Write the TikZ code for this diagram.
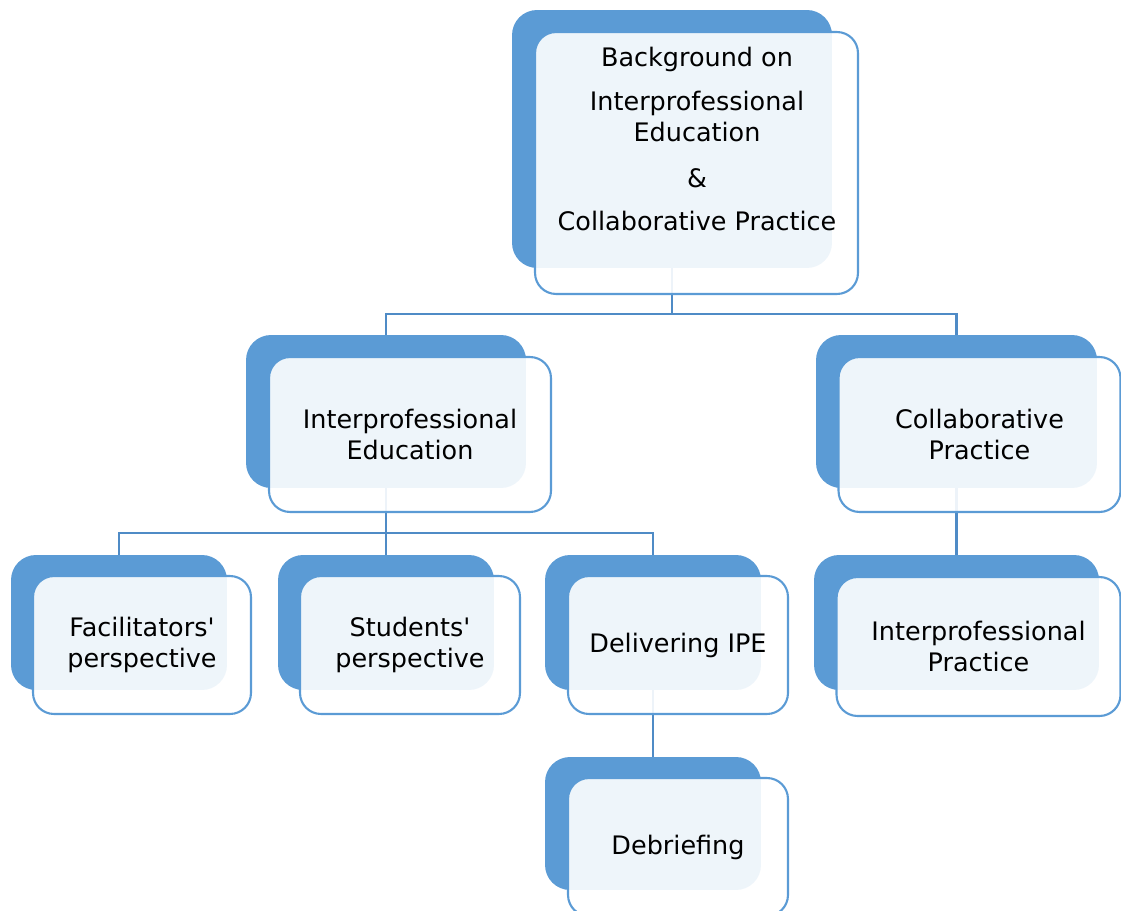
\documentclass[tikz,border=0pt]{standalone}
\usepackage{fontspec}
\setmainfont{DejaVu Sans}
\usetikzlibrary{backgrounds}

\definecolor{boxblue}{HTML}{5B9BD5}
\definecolor{lineblue}{HTML}{4F8BC6}

\tikzset{
	shade/.style={rounded corners=0.5cm, fill=boxblue, draw=none},
	card/.style={rounded corners=0.42cm, draw=boxblue, line width=1.2pt, fill=white, fill opacity=0.9, text opacity=1, align=center},
	link/.style={draw=lineblue, line width=1.3pt}
}

\begin{document}
\begin{tikzpicture}[x=0.02cm, y=-0.02cm, font=\fontsize{14.5}{17.6}\selectfont]
	\useasboundingbox (0,0) rectangle (1121,911);
	% top
	\node[shade, minimum width=6.4cm, minimum height=5.16cm] (bg) at (672,139) {};
	\node[card, minimum width=6.46cm, minimum height=5.24cm] (bgf) at (696.5,163) {};
	\node[align=center] (bgt) at (697,139) {Background on\\[0.26cm] Interprofessional\\ Education\\[0.3cm] \&\\[0.24cm] Collaborative Practice};
	% second row
	\node[shade, minimum width=5.6cm, minimum height=3.06cm] (ipe) at (386,411.5) {};
	\node[card, minimum width=5.64cm, minimum height=3.1cm] (ipef) at (410,434.5) {Interprofessional\\ Education};
	\node[shade, minimum width=5.62cm, minimum height=3.06cm] (cp) at (956.5,411.5) {};
	\node[card, minimum width=5.64cm, minimum height=3.1cm] (cpf) at (979.5,434.5) {Collaborative\\ Practice};
	% third row
	\node[shade, minimum width=4.32cm, minimum height=2.7cm] (fac) at (119,622.5) {};
	\node[card, minimum width=4.36cm, minimum height=2.76cm] (facf) at (142,645) {Facilitators\textquotesingle\\ perspective};
	\node[shade, minimum width=4.32cm, minimum height=2.7cm] (stu) at (386,622.5) {};
	\node[card, minimum width=4.4cm, minimum height=2.76cm] (stuf) at (410,645) {Students\textquotesingle\\ perspective};
	\node[shade, minimum width=4.32cm, minimum height=2.7cm] (dlv) at (653,622.5) {};
	\node[card, minimum width=4.4cm, minimum height=2.76cm] (dlvf) at (678,645) {Delivering IPE};
	\node[shade, minimum width=5.7cm, minimum height=2.7cm] (ipp) at (956.5,622.5) {};
	\node[card, minimum width=5.68cm, minimum height=2.78cm] (ippf) at (978.5,646.5) {Interprofessional\\ Practice};
	% bottom
	\node[shade, minimum width=4.32cm, minimum height=2.66cm] (deb) at (653,823.5) {};
	\node[card, minimum width=4.4cm, minimum height=2.76cm] (debf) at (678,847) {Debriefing};
	% connectors
	\begin{pgfonlayer}{background}
		\draw[link] (bg.south) -- ++(0,46) -| (ipe.north);
		\draw[link] (bg.south) -- ++(0,46) -| (cp.north);
		\draw[link] (ipe.south) -- ++(0,45) -| (fac.north);
		\draw[link] (ipe.south) -- (stu.north);
		\draw[link] (ipe.south) -- ++(0,45) -| (dlv.north);
		\draw[link] (dlv.south) -- (deb.north);
		\draw[link] (cp.south) -- (ipp.north);
	\end{pgfonlayer}
\end{tikzpicture}
\end{document}
